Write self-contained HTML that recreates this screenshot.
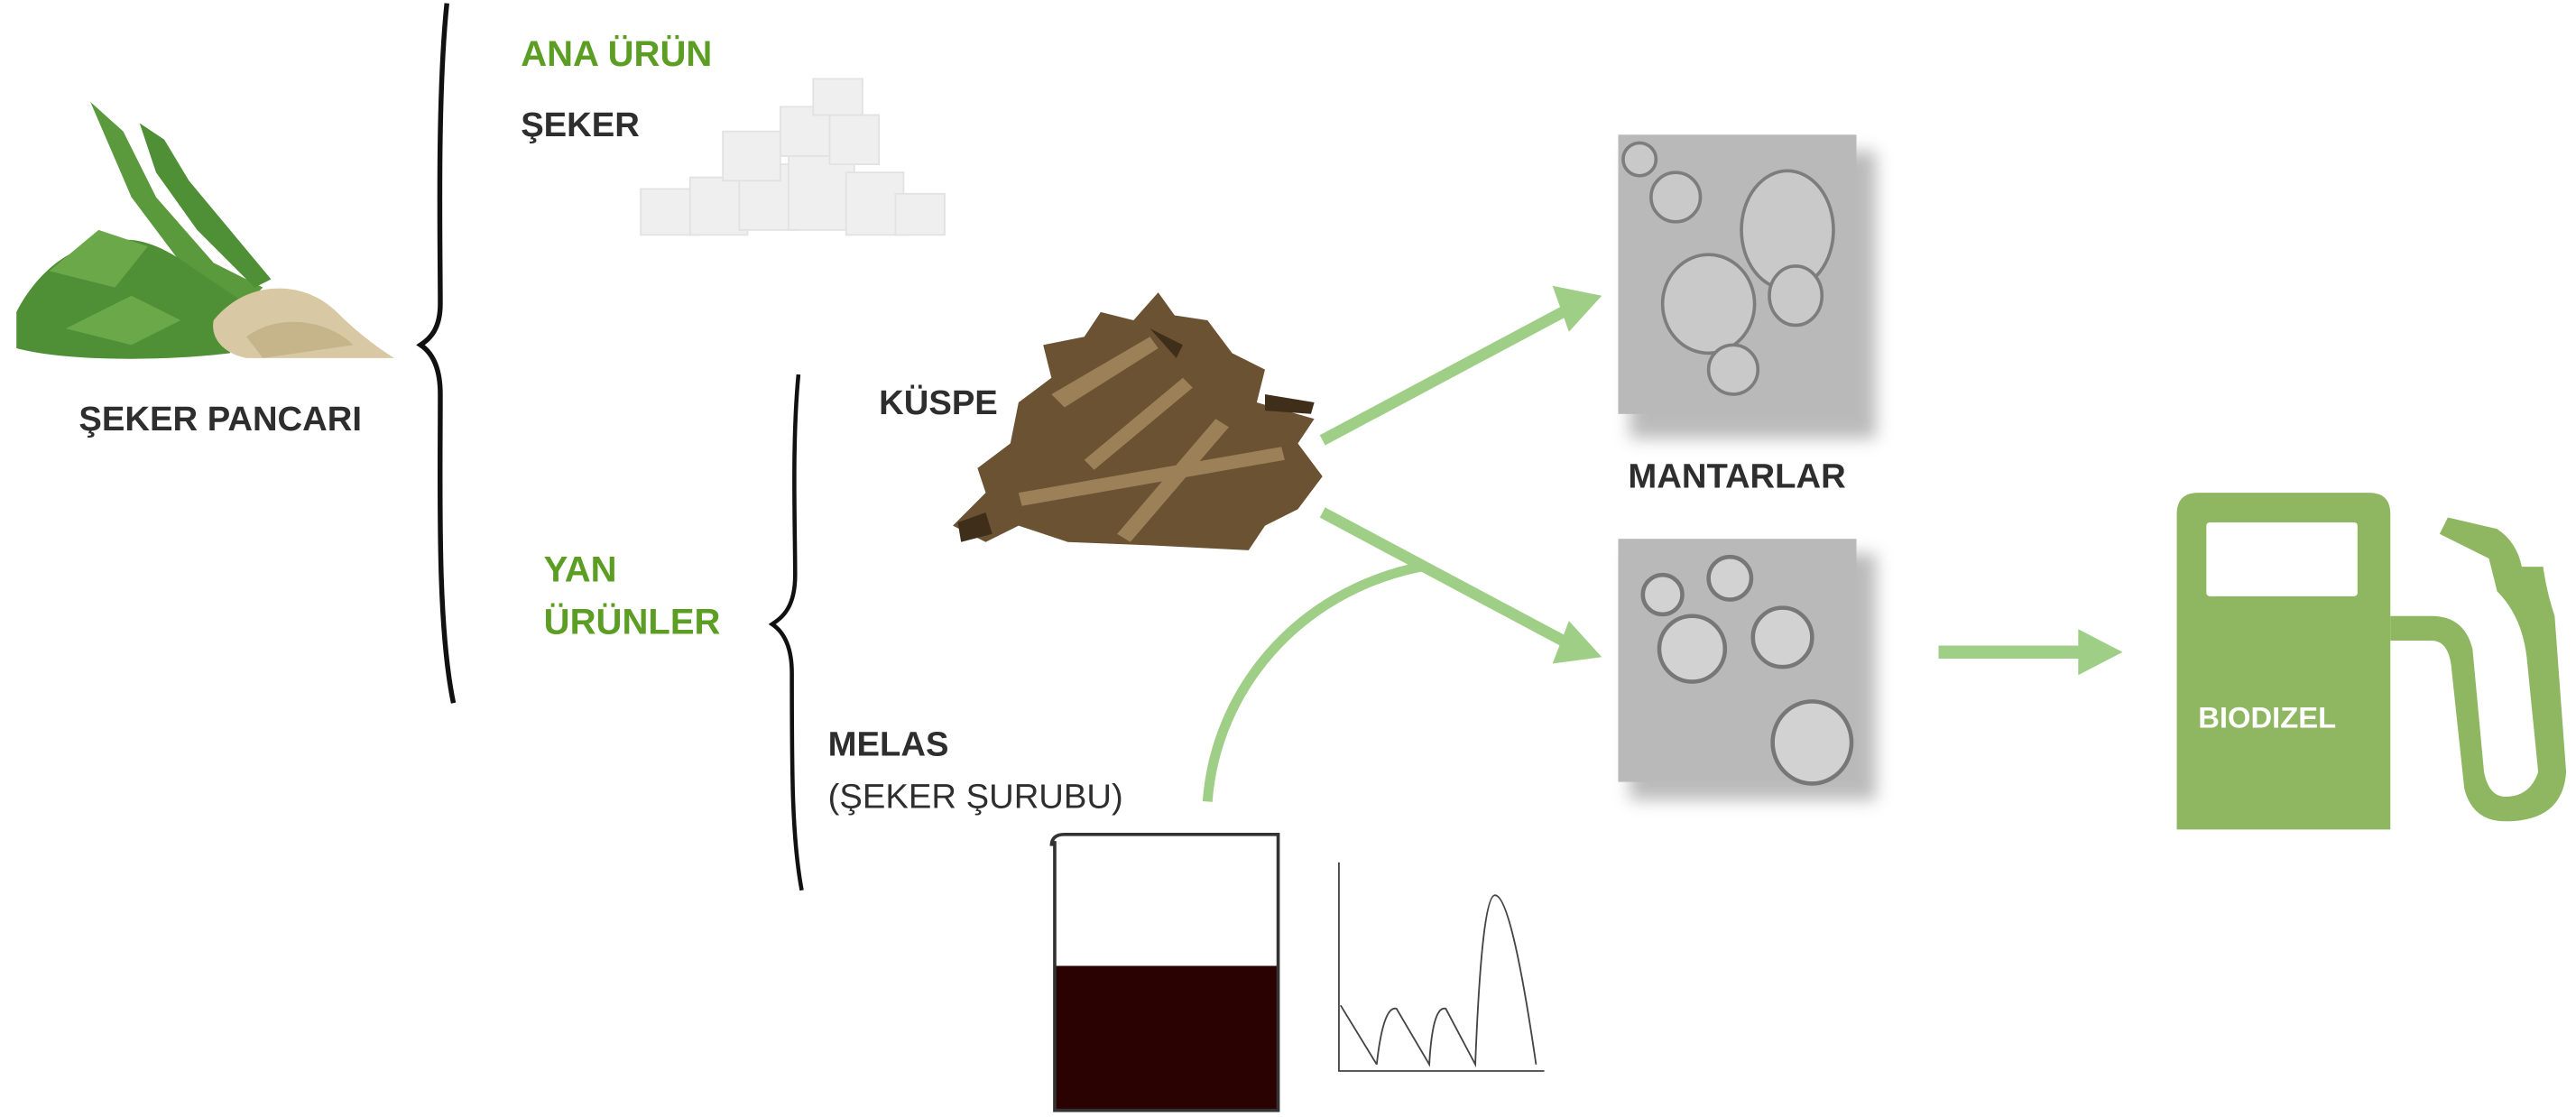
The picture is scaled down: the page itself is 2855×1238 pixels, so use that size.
<!DOCTYPE html>
<html><head><meta charset="utf-8"><style>
html,body{margin:0;padding:0;background:#fff;}
svg{display:block}
text{font-family:"Liberation Sans",sans-serif;font-weight:bold;}
</style></head><body>
<svg width="2855" height="1238" viewBox="0 0 1568 680" preserveAspectRatio="none" xmlns="http://www.w3.org/2000/svg">
<defs>
<filter id="sh" x="-20%" y="-20%" width="150%" height="150%"><feGaussianBlur stdDeviation="5"/></filter>
</defs>
<!-- braces -->
<path d="M272,2 C266,60 268,150 268,185 C268,200 262,206 256,210 C262,214 268,222 268,240 C268,300 266,380 276,428" fill="none" stroke="#111" stroke-width="3"/>
<path d="M486,228 C482,270 484,320 484,350 C484,370 476,376 470,380 C476,384 482,392 482,410 C482,470 482,510 488,542" fill="none" stroke="#111" stroke-width="2.5"/>
<!-- texts -->
<text x="317" y="40" font-size="22" fill="#5c9e24">ANA ÜRÜN</text>
<text x="317" y="83" font-size="21" fill="#2e2e2e">ŞEKER</text>
<text x="48" y="262" font-size="21" fill="#2e2e2e">ŞEKER PANCARI</text>
<text x="331" y="354" font-size="22" fill="#5c9e24">YAN</text>
<text x="331" y="386" font-size="22" fill="#5c9e24">ÜRÜNLER</text>
<text x="535" y="252" font-size="21" fill="#2e2e2e">KÜSPE</text>
<text x="504" y="460" font-size="21" fill="#2e2e2e">MELAS</text>
<text x="504" y="492" font-size="21" fill="#2e2e2e" style="font-weight:normal">(ŞEKER ŞURUBU)</text>
<text x="991" y="297" font-size="21" fill="#2e2e2e">MANTARLAR</text>
<!-- beet -->
<g>
<path d="M55,62 L75,80 L95,120 L130,160 L160,175 L150,185 L110,160 L80,120 Z" fill="#5a9a3c"/>
<path d="M85,75 L100,85 L115,110 L140,140 L165,170 L155,175 L120,140 L95,105 Z" fill="#4f8f35"/>
<path d="M10,190 C20,170 40,150 60,150 C80,140 100,150 120,165 L150,185 L140,215 C100,220 40,220 10,212 Z" fill="#4f8f35"/>
<path d="M30,165 L60,140 L90,150 L70,175 Z M40,200 L80,180 L110,195 L80,210 Z" fill="#6aa84a"/>
<path d="M130,195 C150,170 185,170 205,190 C220,205 235,215 240,218 L150,218 C135,215 128,205 130,195 Z" fill="#d8c9a4"/>
<path d="M150,205 C170,190 200,195 215,210 L160,218 Z" fill="#c6b48a"/>
</g>
<!-- sugar cubes -->
<g fill="#efefef" stroke="#e2e2e2">
<rect x="390" y="115" width="35" height="28"/><rect x="420" y="108" width="35" height="35"/><rect x="450" y="100" width="35" height="40"/><rect x="480" y="90" width="40" height="50"/>
<rect x="515" y="105" width="35" height="38"/><rect x="545" y="118" width="30" height="25"/><rect x="440" y="80" width="35" height="30"/><rect x="475" y="65" width="35" height="30"/><rect x="505" y="70" width="30" height="30"/><rect x="495" y="48" width="30" height="22"/>
</g>
<!-- kuspe -->
<g fill="#6b5233">
<path d="M580,320 L600,300 L595,285 L615,270 L620,245 L640,230 L635,210 L660,205 L670,190 L690,195 L705,178 L715,192 L735,195 L750,215 L770,225 L765,245 L800,255 L790,270 L805,290 L790,310 L770,320 L760,335 L700,332 L650,330 L620,320 L600,330 Z"/>
<path d="M640,240 L700,205 L705,212 L648,248Z M620,300 L780,272 L782,280 L622,308Z M680,325 L740,255 L748,260 L688,330Z M660,280 L720,230 L726,236 L666,286Z" fill="#9c8058"/>
<path d="M583,318 L600,312 L604,325 L585,330Z M770,240 L800,245 L798,252 L770,250Z M700,200 L720,210 L716,218 Z" fill="#3f2f1a"/>
</g>
<!-- arrows -->
<line x1="805" y1="268" x2="955" y2="188" stroke="#9fcf87" stroke-width="7"/>
<path d="M945,174 L975,180 L955,202 Z" fill="#9fcf87"/>
<line x1="805" y1="312" x2="955" y2="392" stroke="#9fcf87" stroke-width="7"/>
<path d="M955,378 L975,400 L945,404 Z" fill="#9fcf87"/>
<path d="M735,488 C740,420 790,360 865,345" fill="none" stroke="#9fcf87" stroke-width="6"/>
<line x1="1180" y1="397" x2="1270" y2="397" stroke="#9fcf87" stroke-width="8"/>
<path d="M1265,383 L1292,397 L1265,411 Z" fill="#9fcf87"/>
<!-- yeast images -->
<rect x="992" y="92" width="150" height="175" fill="#777" opacity=".5" filter="url(#sh)"/>
<rect x="985" y="82" width="145" height="170" fill="#b9b9b9"/>
<g fill="#c9c9c9" stroke="#7d7d7d" stroke-width="2">
<ellipse cx="1088" cy="140" rx="28" ry="36"/><ellipse cx="1040" cy="185" rx="28" ry="30"/><ellipse cx="1093" cy="180" rx="16" ry="18"/><ellipse cx="1055" cy="225" rx="15" ry="15"/><ellipse cx="1020" cy="120" rx="15" ry="15"/><ellipse cx="998" cy="97" rx="10" ry="10"/>
</g>
<rect x="992" y="337" width="150" height="150" fill="#777" opacity=".5" filter="url(#sh)"/>
<rect x="985" y="328" width="145" height="148" fill="#b9b9b9"/>
<g fill="#d2d2d2" stroke="#777" stroke-width="2.5">
<circle cx="1030" cy="395" r="20"/><circle cx="1085" cy="388" r="18"/><circle cx="1053" cy="352" r="13"/><circle cx="1012" cy="362" r="12"/><ellipse cx="1103" cy="452" rx="24" ry="25"/>
</g>
<!-- fuel pump -->
<path d="M1338,300 L1442,300 Q1455,300 1455,313 L1455,505 L1325,505 L1325,313 Q1325,300 1338,300 Z" fill="#8fb661"/>
<rect x="1343" y="318" width="92" height="45" rx="2" fill="#fff"/>
<path d="M1455,390 L1480,390 Q1490,390 1492,405 L1500,480 Q1505,500 1525,500 Q1560,500 1562,470 L1555,375 Q1550,360 1548,345 L1535,345 Q1532,330 1520,322 L1490,315 L1485,325 L1515,340 L1520,360 Q1535,375 1538,400 L1545,470 Q1540,485 1525,485 Q1515,485 1512,470 L1505,395 Q1500,375 1480,375 L1455,375 Z" fill="#8fb661"/>
<text x="1338" y="443" font-size="18" fill="#fff">BIODIZEL</text>
<!-- beaker -->
<rect x="642" y="588" width="136" height="88" fill="#2b0202"/>
<path d="M640,515 Q640,508 648,508 L778,508 L778,676 L642,676 L642,512" fill="none" stroke="#333" stroke-width="2"/>
<!-- chart -->
<g fill="none" stroke="#444" stroke-width="1">
<path d="M815,525 L815,652 L940,652"/>
<path d="M816,612 L838,648 M838,648 Q842,612 850,614 L870,648 Q872,612 880,614 L898,648 Q902,545 910,545 Q920,545 935,648"/>
</g>
</svg>
</body></html>
